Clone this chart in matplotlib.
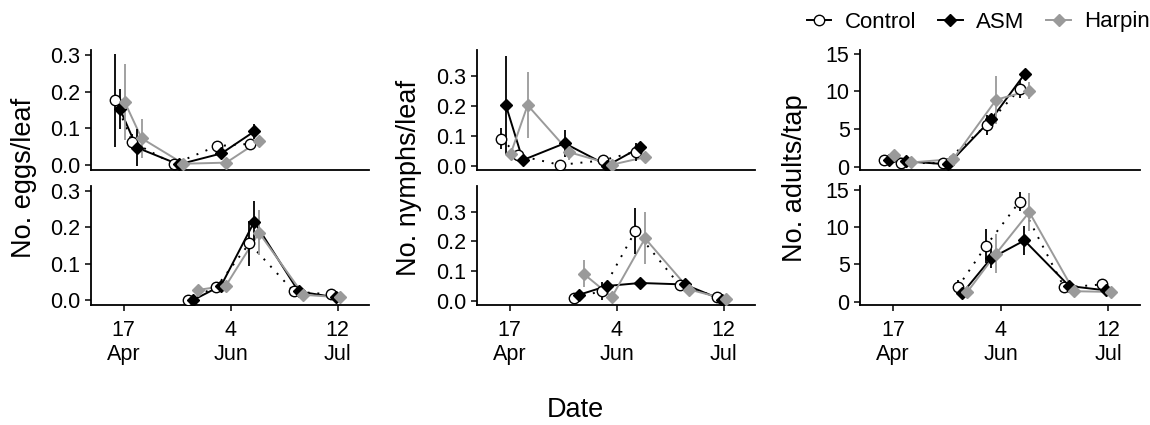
import matplotlib

matplotlib.use("Agg")
import matplotlib.pyplot as plt
from matplotlib.lines import Line2D
import numpy as np

plt.rcParams["font.family"] = ["Liberation Sans", "DejaVu Sans"]

# x axis is week of year; ticks labelled with the dates
tick_weeks = [16, 22, 28]
tick_labels = ["17\nApr", "4\nJun", "12\nJul"]

# sampling weeks, first season (top row) and second season (bottom row)
weeks_top = [15.78, 16.73, 19.08, 21.48, 23.33]
weeks_bot = [19.87, 21.46, 23.32, 25.81, 27.89]

treatments = ["Control", "ASM", "Harpin"]

# eggs per leaf
eggs_top_mean = {
    "Control": [0.176, 0.064, 0.003, 0.052, 0.058],
    "ASM": [0.153, 0.048, 0.002, 0.032, 0.092],
    "Harpin": [0.172, 0.073, 0.004, 0.007, 0.066],
}
eggs_top_se = {
    "Control": [0.127, 0.020, 0.003, 0.015, 0.010],
    "ASM": [0.055, 0.050, 0.002, 0.010, 0.020],
    "Harpin": [0.103, 0.053, 0.003, 0.005, 0.010],
}
eggs_bot_mean = {
    "Control": [0.002, 0.036, 0.156, 0.024, 0.016],
    "ASM": [0.000, 0.040, 0.215, 0.024, 0.008],
    "Harpin": [0.028, 0.040, 0.185, 0.015, 0.008],
}
eggs_bot_se = {
    "Control": [0.002, 0.008, 0.062, 0.006, 0.004],
    "ASM": [0.001, 0.008, 0.057, 0.006, 0.004],
    "Harpin": [0.006, 0.006, 0.062, 0.005, 0.003],
}

# nymphs per leaf
nymphs_top_mean = {
    "Control": [0.091, 0.035, 0.003, 0.018, 0.047],
    "ASM": [0.202, 0.019, 0.075, 0.001, 0.062],
    "Harpin": [0.040, 0.202, 0.045, 0.004, 0.029],
}
nymphs_top_se = {
    "Control": [0.035, 0.010, 0.003, 0.010, 0.030],
    "ASM": [0.165, 0.008, 0.045, 0.001, 0.015],
    "Harpin": [0.010, 0.110, 0.025, 0.003, 0.008],
}
nymphs_bot_mean = {
    "Control": [0.010, 0.033, 0.235, 0.052, 0.014],
    "ASM": [0.020, 0.050, 0.060, 0.055, 0.004],
    "Harpin": [0.091, 0.013, 0.210, 0.038, 0.005],
}
nymphs_bot_se = {
    "Control": [0.005, 0.030, 0.078, 0.010, 0.005],
    "ASM": [0.006, 0.010, 0.010, 0.010, 0.003],
    "Harpin": [0.046, 0.006, 0.087, 0.006, 0.003],
}

# adults per tap
adults_top_mean = {
    "Control": [0.90, 0.50, 0.45, 5.5, 10.3],
    "ASM": [0.85, 0.70, 0.30, 6.3, 12.3],
    "Harpin": [1.50, 0.55, 1.00, 8.9, 10.1],
}
adults_top_se = {
    "Control": [0.2, 0.2, 0.15, 1.3, 1.2],
    "ASM": [0.2, 0.2, 0.10, 0.6, 0.6],
    "Harpin": [0.3, 0.2, 0.30, 3.2, 1.1],
}
adults_bot_mean = {
    "Control": [1.90, 7.5, 13.4, 1.9, 2.3],
    "ASM": [1.15, 5.8, 8.2, 2.1, 1.5],
    "Harpin": [1.30, 6.4, 12.0, 1.4, 1.3],
}
adults_bot_se = {
    "Control": [1.0, 2.3, 1.3, 0.4, 0.4],
    "ASM": [0.3, 1.3, 1.9, 0.4, 0.3],
    "Harpin": [0.3, 2.6, 2.5, 0.3, 0.3],
}

grey = "#9a9a9a"
styles = {
    "Control": dict(color="black", ls=(0, (1, 4)), marker="o", mfc="white", mec="black", ms=7.5, err="black", dodge=-0.27),
    "ASM": dict(color="black", ls="-", marker="D", mfc="black", mec="black", ms=6.5, err="black", dodge=0.0),
    "Harpin": dict(color=grey, ls="-", marker="D", mfc=grey, mec=grey, ms=6.5, err=grey, dodge=0.27),
}

columns = [
    ("No. eggs/leaf", (eggs_top_mean, eggs_top_se), (eggs_bot_mean, eggs_bot_se),
     (-0.013, 0.313), [0.0, 0.1, 0.2, 0.3], "{:.1f}"),
    ("No. nymphs/leaf", (nymphs_top_mean, nymphs_top_se), (nymphs_bot_mean, nymphs_bot_se),
     (-0.014, 0.386), [0.0, 0.1, 0.2, 0.3], "{:.1f}"),
    ("No. adults/tap", (adults_top_mean, adults_top_se), (adults_bot_mean, adults_bot_se),
     (-0.45, 15.5), [0, 5, 10, 15], "{:.0f}"),
]

W, H = 1150, 425
fig = plt.figure(figsize=(W / 100, H / 100), dpi=100)

col_x = [(91, 369), (477, 755), (860, 1140)]
row_y = [(50, 170), (186, 305)]
ylab_x = [24, 409, 795]


def draw_panel(ax, weeks, means, ses):
    # lines, then error bars, then points (same order as the layers)
    for t in treatments:
        st = styles[t]
        x = np.array(weeks) + st["dodge"]
        ax.plot(x, means[t], color=st["color"], ls=st["ls"], lw=1.4, zorder=1)
    for t in treatments:
        st = styles[t]
        x = np.array(weeks) + st["dodge"]
        m = np.array(means[t])
        s = np.array(ses[t])
        ax.vlines(x, m - s, m + s, color=st["err"], lw=1.3, zorder=2)
    for t in treatments:
        st = styles[t]
        x = np.array(weeks) + st["dodge"]
        ax.plot(x, means[t], ls="none", marker=st["marker"], mfc=st["mfc"],
                mec=st["mec"], ms=st["ms"], mew=1.0, zorder=3)


for ci, (ylab, top, bot, ylim, yticks, fmt) in enumerate(columns):
    x0, x1 = col_x[ci]
    for ri, (data, weeks) in enumerate([(top, weeks_top), (bot, weeks_bot)]):
        y0, y1 = row_y[ri]
        ax = fig.add_axes([x0 / W, 1 - y1 / H, (x1 - x0) / W, (y1 - y0) / H])
        draw_panel(ax, weeks, data[0], data[1])
        ax.set_xlim(14.16, 29.76)
        ax.set_ylim(*ylim)
        ax.set_yticks(yticks)
        ax.set_yticklabels([fmt.format(v) for v in yticks])
        ax.set_xticks(tick_weeks)
        for side in ["top", "right"]:
            ax.spines[side].set_visible(False)
        for side in ["left", "bottom"]:
            ax.spines[side].set_linewidth(1.3)
        ax.tick_params(axis="both", length=4.5, width=1.1, labelsize=15.5, pad=3)
        if ri == 0:
            ax.tick_params(axis="x", bottom=False, labelbottom=False)
        else:
            ax.tick_params(axis="x", pad=6)
            ax.set_xticklabels(tick_labels, linespacing=1.2)
    fig.text(ylab_x[ci] / W, 1 - 178 / H, ylab, rotation=90, fontsize=19.5,
             ha="center", va="center")

fig.text(575 / W, 1 - 410 / H, "Date", fontsize=19.5, ha="center", va="center")

handles = []
for t in treatments:
    st = styles[t]
    handles.append(Line2D([], [], color=st["color"], ls="-", lw=1.4, marker=st["marker"],
                          mfc=st["mfc"], mec=st["mec"], ms=st["ms"]))
fig.legend(handles, treatments, loc="center right", bbox_to_anchor=(1150 / W, 1 - 22 / H),
           ncol=3, frameon=False, fontsize=16, handlelength=1.1, handletextpad=0.6,
           columnspacing=1.0, borderaxespad=0, borderpad=0)

fig.savefig("out.png", dpi=100)
